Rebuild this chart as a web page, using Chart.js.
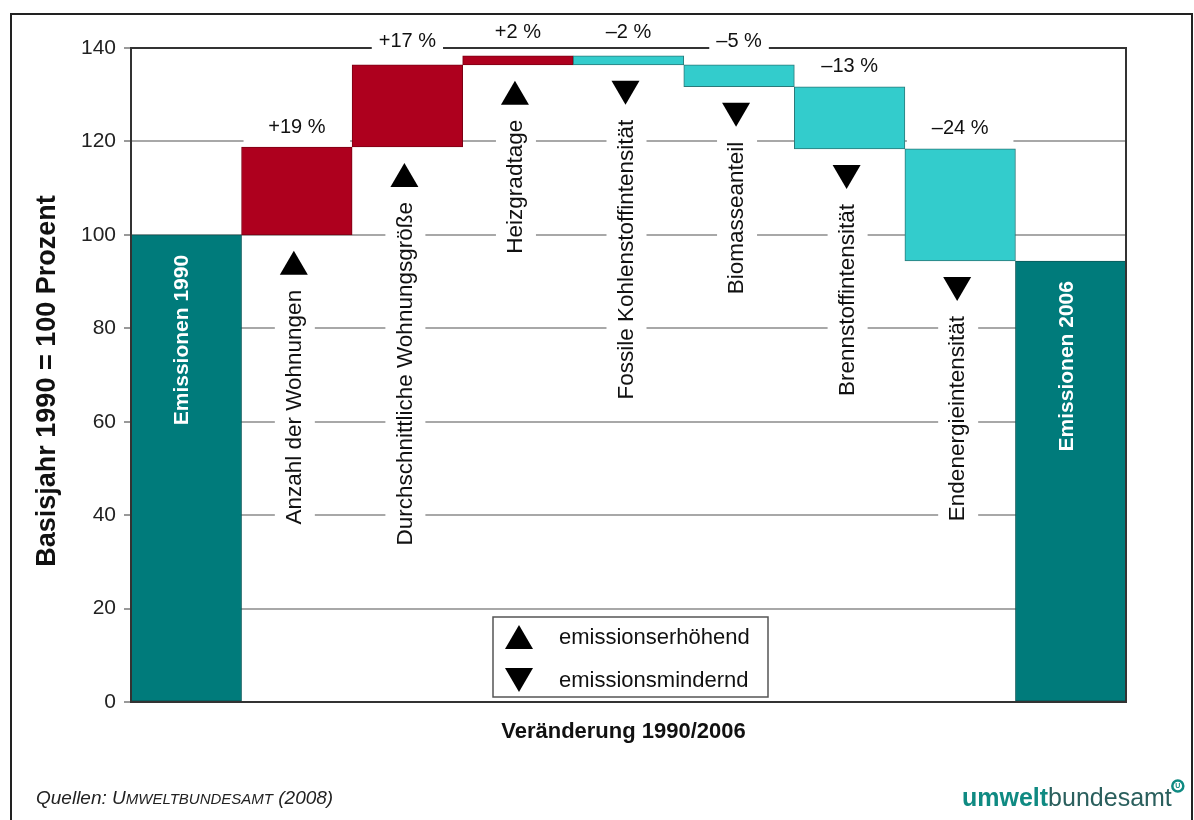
<!DOCTYPE html>
<html lang="de">
<head>
<meta charset="utf-8">
<title>Emissionen 1990/2006</title>
<script src="https://cdn.jsdelivr.net/npm/chart.js@4"></script>
<style>
  html, body { margin: 0; padding: 0; background: #fff; }
  canvas { display: block; }
</style>
</head>
<body>
<canvas id="chart" width="1194" height="820"></canvas>
<script>
// Daten
const kategorien = [
  'Emissionen 1990',
  'Anzahl der Wohnungen',
  'Durchschnittliche Wohnungsgröße',
  'Heizgradtage',
  'Fossile Kohlenstoffintensität',
  'Biomasseanteil',
  'Brennstoffintensität',
  'Endenergieintensität',
  'Emissionen 2006'
];
// Niveau nach jedem Schritt (1990 = 100)
const niveaus = [100, 118.8, 136.4, 138.3, 136.4, 131.7, 118.4, 94.4];
const aenderungen = ['+19 %', '+17 %', '+2 %', '–2 %', '–5 %', '–13 %', '–24 %'];
const yTicks = [0, 20, 40, 60, 80, 100, 120, 140];
const legende = ['emissionserhöhend', 'emissionsmindernd'];

const FONT = '"Liberation Sans", Arial, sans-serif';
const TEAL = '#007b7b';
const ROT = '#ae001e';
const CYAN = '#33cccc';

const letzter = kategorien.length - 1;
const balken = kategorien.map((k, i) => {
  if (i === 0) return [0, niveaus[0]];
  if (i === letzter) return [0, niveaus[niveaus.length - 1]];
  return [niveaus[i - 1], niveaus[i]];
});
const istSumme = (i) => i === 0 || i === letzter;
const fuellung = balken.map((b, i) => istSumme(i) ? TEAL : (b[1] > b[0] ? ROT : CYAN));
const rand = balken.map((b, i) => istSumme(i) ? '#0b5a5a' : (b[1] > b[0] ? '#7c0014' : '#2b7a7a'));

function dreieck(ctx, x, y, hoch) {
  const w = 28, h = 24;
  ctx.beginPath();
  if (hoch) {
    ctx.moveTo(x - w / 2, y + h / 2);
    ctx.lineTo(x + w / 2, y + h / 2);
    ctx.lineTo(x, y - h / 2);
  } else {
    ctx.moveTo(x - w / 2, y - h / 2);
    ctx.lineTo(x + w / 2, y - h / 2);
    ctx.lineTo(x, y + h / 2);
  }
  ctx.closePath();
  ctx.fillStyle = '#000';
  ctx.fill();
}

function senkrecht(ctx, text, x, top, font, farbe, mitBox) {
  ctx.save();
  ctx.font = font;
  const w = ctx.measureText(text).width;
  if (mitBox) {
    ctx.fillStyle = '#fff';
    ctx.fillRect(x - 20, top - 4, 40, w + 8);
  }
  ctx.translate(x, top);
  ctx.rotate(-Math.PI / 2);
  ctx.fillStyle = farbe;
  ctx.textAlign = 'right';
  ctx.textBaseline = 'middle';
  ctx.fillText(text, 0, 0);
  ctx.restore();
}

const deko = {
  id: 'deko',
  beforeDraw(chart) {
    const { ctx } = chart;
    ctx.save();
    ctx.fillStyle = '#fff';
    ctx.fillRect(0, 0, chart.width, chart.height);
    ctx.strokeStyle = '#222';
    ctx.lineWidth = 2;
    ctx.strokeRect(11, 14, chart.width - 13, chart.height);
    ctx.restore();
  },
  afterDatasetsDraw(chart) {
    const { ctx, chartArea: a } = chart;
    const meta = chart.getDatasetMeta(0);
    ctx.save();

    // Rahmen der Grafik
    ctx.strokeStyle = '#333';
    ctx.lineWidth = 2;
    ctx.strokeRect(a.left, a.top, a.right - a.left, a.bottom - a.top);

    meta.data.forEach((el, i) => {
      const oben = Math.min(el.y, el.base);
      const unten = Math.max(el.y, el.base);

      if (istSumme(i)) {
        senkrecht(ctx, kategorien[i], el.x - 4, oben + 20, 'bold 21px ' + FONT, '#fff', false);
        return;
      }

      // Prozentangabe
      const txt = aenderungen[i - 1];
      const ly = oben - 20;
      ctx.font = '20px ' + FONT;
      const tw = ctx.measureText(txt).width;
      ctx.fillStyle = '#fff';
      if (ly > a.top + 20) {
        ctx.fillRect(el.x - el.width / 2 + 2, ly - 12, el.width - 4, oben - ly + 10);
      } else {
        ctx.fillRect(el.x - tw / 2 - 7, ly - 11, tw + 14, 22);
      }
      ctx.fillStyle = '#111';
      ctx.textAlign = 'center';
      ctx.textBaseline = 'middle';
      ctx.fillText(txt, el.x, ly - (ly < a.top ? 3 : 0));

      // Pfeil und Beschriftung
      const hoch = balken[i][1] > balken[i][0];
      dreieck(ctx, el.x - 3, unten + 28, hoch);
      senkrecht(ctx, kategorien[i], el.x - 2, unten + 55, '22.5px ' + FONT, '#111', true);
    });

    // Legende
    ctx.fillStyle = '#fff';
    ctx.fillRect(493, 617, 275, 80);
    ctx.strokeStyle = '#555';
    ctx.lineWidth = 1.5;
    ctx.strokeRect(493, 617, 275, 80);
    dreieck(ctx, 519, 637, true);
    dreieck(ctx, 519, 680, false);
    ctx.fillStyle = '#111';
    ctx.font = '22px ' + FONT;
    ctx.textAlign = 'left';
    ctx.textBaseline = 'middle';
    ctx.fillText(legende[0], 559, 638);
    ctx.fillText(legende[1], 559, 681);

    // Achsentitel
    ctx.font = 'bold 22px ' + FONT;
    ctx.textAlign = 'center';
    ctx.fillStyle = '#111';
    ctx.fillText('Veränderung 1990/2006', (a.left + a.right) / 2 - 5, 732);
    ctx.save();
    ctx.translate(48, 381);
    ctx.rotate(-Math.PI / 2);
    ctx.font = 'bold 27px ' + FONT;
    ctx.fillText('Basisjahr 1990 = 100 Prozent', 0, 0);
    ctx.restore();

    // Quelle
    ctx.textAlign = 'left';
    ctx.textBaseline = 'alphabetic';
    ctx.fillStyle = '#222';
    let x = 36;
    const teile = [['italic 19px ', 'Quellen: '], ['italic 19px ', 'U'], ['italic 15px ', 'MWELTBUNDESAMT'], ['italic 19px ', ' (2008)']];
    teile.forEach(([f, t]) => {
      ctx.font = f + FONT;
      ctx.fillText(t, x, 804);
      x += ctx.measureText(t).width;
    });

    // Logo
    x = 962;
    ctx.font = 'bold 25px ' + FONT;
    ctx.fillStyle = '#0f8a82';
    ctx.fillText('umwelt', x, 806);
    x += ctx.measureText('umwelt').width;
    ctx.font = '25px ' + FONT;
    ctx.fillStyle = '#2a5f5d';
    ctx.fillText('bundesamt', x, 806);
    x += ctx.measureText('bundesamt').width;
    ctx.beginPath();
    ctx.arc(x + 6, 786, 5.5, 0, Math.PI * 2);
    ctx.strokeStyle = '#0f8a82';
    ctx.lineWidth = 2.5;
    ctx.stroke();
    ctx.font = 'bold 7px ' + FONT;
    ctx.fillStyle = '#0f8a82';
    ctx.textAlign = 'center';
    ctx.textBaseline = 'middle';
    ctx.fillText('U', x + 6, 786.5);

    ctx.restore();
  }
};

new Chart(document.getElementById('chart'), {
  type: 'bar',
  data: {
    labels: kategorien,
    datasets: [{
      data: balken,
      backgroundColor: fuellung,
      borderColor: rand,
      borderWidth: 1,
      borderSkipped: false,
      barPercentage: 1,
      categoryPercentage: 1
    }]
  },
  options: {
    responsive: false,
    animation: false,
    layout: { padding: { left: 10, right: 68, top: 48, bottom: 118 } },
    plugins: {
      legend: { display: false },
      tooltip: { enabled: false }
    },
    scales: {
      x: { display: false },
      y: {
        min: 0,
        max: 140,
        afterBuildTicks: (s) => { s.ticks = yTicks.map(v => ({ value: v })); },
        afterFit: (s) => { s.width = 121; },
        border: { display: false },
        grid: {
          color: (c) => (c.tick.value === 0 || c.tick.value === 140) ? 'rgba(0,0,0,0)' : '#a8a8a8',
          lineWidth: 2,
          tickColor: '#999',
          tickLength: 7
        },
        ticks: {
          padding: 8,
          color: '#222',
          font: { family: FONT, size: 21 }
        }
      }
    }
  },
  plugins: [deko]
});
</script>
</body>
</html>
